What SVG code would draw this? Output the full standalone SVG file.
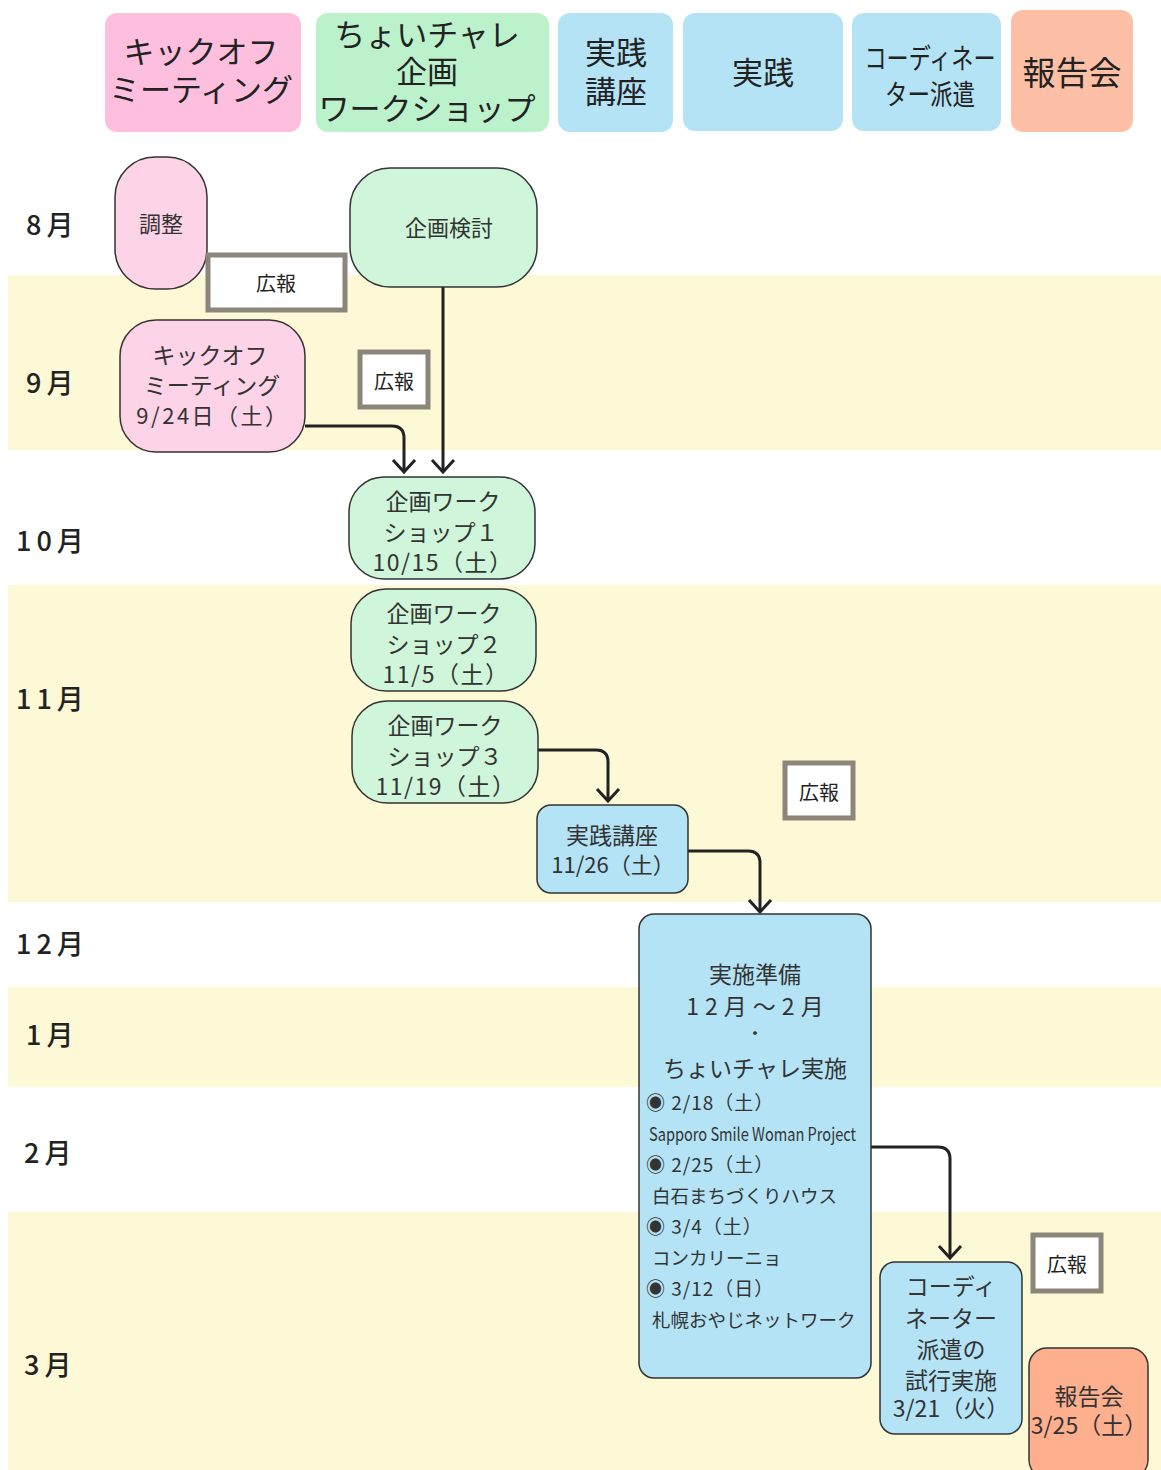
<svg xmlns="http://www.w3.org/2000/svg" width="1161" height="1470" viewBox="0 0 1161 1470">
<defs>
<style>
text{font-family:"Noto Sans CJK JP","Noto Sans",sans-serif;fill:#333;}
.c{text-anchor:middle;}
.hd{font-size:31px;fill:#222;}
.mo{font-size:27px;font-weight:500;fill:#222;letter-spacing:5px;}
.n{font-size:23px;}
.dt{letter-spacing:1.5px;}
.it{font-size:19px;letter-spacing:1px;}
.band{fill:#fdf8d6;}
.nd{stroke:#333;stroke-width:1.5;}
.pk{fill:#fdd3e7;}
.gr{fill:#cff6da;}
.bl{fill:#b3e3f5;}
.or{fill:#fdaf8e;}
.kh rect{fill:#fff;stroke:#8c857a;stroke-width:5;}
.kh text{font-size:20px;fill:#222;text-anchor:middle;}
.conn path{fill:none;stroke:#222;stroke-width:3;}
</style>
<marker id="arr" viewBox="-2 -13 16 26" markerWidth="16" markerHeight="26" refX="12" refY="0" orient="auto" markerUnits="userSpaceOnUse">
<path d="M0,-11 L12,0 L0,11" fill="none" stroke="#222" stroke-width="3"/>
</marker>
</defs>
<rect width="1161" height="1470" fill="#fff"/>
<!-- month bands -->
<g id="bands">
<rect class="band" x="8" y="275" width="1153" height="175"/>
<rect class="band" x="8" y="585" width="1153" height="317"/>
<rect class="band" x="8" y="987" width="1153" height="100"/>
<rect class="band" x="8" y="1212" width="1153" height="258"/>
</g>
<!-- month labels -->
<g id="months">
<text class="mo" x="26" y="235">8月</text>
<text class="mo" x="26" y="393">9月</text>
<text class="mo" x="16" y="551">10月</text>
<text class="mo" x="16" y="709">11月</text>
<text class="mo" x="16" y="954">12月</text>
<text class="mo" x="26" y="1045">1月</text>
<text class="mo" x="24" y="1163">2月</text>
<text class="mo" x="24" y="1375">3月</text>
</g>
<!-- header -->
<g id="h-kickoff">
<rect x="105" y="13" width="196" height="119" rx="12" fill="#fdbfdd"/>
<text class="hd c" x="201" y="63">キックオフ</text>
<text class="hd c" x="201" y="101">ミーティング</text>
</g>
<g id="h-choicha">
<rect x="316" y="13" width="233" height="119" rx="12" fill="#bbf1cb"/>
<text class="hd c" x="427" y="46">ちょいチャレ</text>
<text class="hd c" x="427" y="83">企画</text>
<text class="hd c" x="427" y="120">ワークショップ</text>
</g>
<g id="h-koza">
<rect x="558" y="13" width="115" height="119" rx="12" fill="#b3e3f5"/>
<text class="hd c" x="616" y="64">実践</text>
<text class="hd c" x="616" y="103">講座</text>
</g>
<g id="h-jissen">
<rect x="683" y="13" width="160" height="118" rx="12" fill="#b3e3f5"/>
<text class="hd c" x="763" y="84">実践</text>
</g>
<g id="h-coord">
<rect x="852" y="13" width="149" height="118" rx="12" fill="#b3e3f5"/>
<text class="c" x="930" y="69" font-size="28" textLength="131" lengthAdjust="spacingAndGlyphs" style="fill:#222">コーディネー</text>
<text class="c" x="930" y="105" font-size="28" textLength="90" lengthAdjust="spacingAndGlyphs" style="fill:#222">ター派遣</text>
</g>
<g id="h-report">
<rect x="1011" y="10" width="122" height="122" rx="12" fill="#fdbfa5"/>
<text class="c" x="1072" y="85" font-size="33" style="fill:#222">報告会</text>
</g>
<!-- connectors -->
<g id="connectors" class="conn">
<path d="M305,426 H392 Q404,426 404,438 V472" marker-end="url(#arr)"/>
<path d="M443,287 V472" marker-end="url(#arr)"/>
<path d="M538,750 H596 Q608,750 608,762 V801" marker-end="url(#arr)"/>
<path d="M688,851 H748 Q760,851 760,863 V912" marker-end="url(#arr)"/>
<path d="M871,1147 H938 Q950,1147 950,1159 V1258" marker-end="url(#arr)"/>
</g>
<!-- nodes -->
<g id="n-chosei">
<rect class="nd pk" x="115" y="157" width="92" height="132" rx="40"/>
<text class="c" x="161" y="232" font-size="22">調整</text>
</g>
<g id="kh1" class="kh">
<rect x="208" y="255" width="137" height="55"/>
<text x="276" y="291">広報</text>
</g>
<g id="n-kentou">
<rect class="nd gr" x="350" y="168" width="187" height="119" rx="40"/>
<text class="c" x="449" y="236" font-size="22">企画検討</text>
</g>
<g id="n-kickoff">
<rect class="nd pk" x="120" y="320" width="185" height="132" rx="36"/>
<text class="c n" x="210" y="364">キックオフ</text>
<text class="c n" x="212" y="394">ミーティング</text>
<text class="c" x="213" y="424" font-size="22" letter-spacing="2.5">9/24日（土）</text>
</g>
<g id="kh2" class="kh">
<rect x="360" y="352" width="68" height="55"/>
<text x="394" y="389">広報</text>
</g>
<g id="n-ws1">
<rect class="nd gr" x="349" y="477" width="186" height="102" rx="35"/>
<text class="c n" x="443" y="510">企画ワーク</text>
<text class="c n" x="441" y="541">ショップ１</text>
<text class="c n dt" x="443" y="571">10/15（土）</text>
</g>
<g id="n-ws2">
<rect class="nd gr" x="351" y="589" width="185" height="102" rx="35"/>
<text class="c n" x="444" y="622">企画ワーク</text>
<text class="c n" x="444" y="653">ショップ２</text>
<text class="c n dt" x="446" y="683">11/5（土）</text>
</g>
<g id="n-ws3">
<rect class="nd gr" x="352" y="701" width="186" height="102" rx="35"/>
<text class="c n" x="445" y="734">企画ワーク</text>
<text class="c n" x="445" y="765">ショップ３</text>
<text class="c n dt" x="446" y="795">11/19（土）</text>
</g>
<g id="n-koza">
<rect class="nd bl" x="537" y="805" width="151" height="88" rx="14"/>
<text class="c n" x="612" y="844">実践講座</text>
<text class="c" x="613" y="873" font-size="22">11/26（土）</text>
</g>
<g id="kh3" class="kh">
<rect x="785" y="763" width="68" height="55"/>
<text x="819" y="800">広報</text>
</g>
<g id="n-jisshi">
<rect class="nd bl" x="639" y="914" width="232" height="464" rx="15"/>
<text class="c n" x="755" y="983">実施準備</text>
<text class="c n" x="758" y="1015" letter-spacing="6">12月～2月</text>
<text class="c" x="755" y="1040" font-size="18">・</text>
<text class="c n" x="755" y="1077">ちょいチャレ実施</text>
<text class="it" x="646" y="1110">◉ 2/18（土）</text>
<text x="649" y="1141" font-size="18" textLength="207" lengthAdjust="spacingAndGlyphs">Sapporo Smile Woman Project</text>
<text class="it" x="646" y="1172">◉ 2/25（土）</text>
<text x="652" y="1203" font-size="18.5">白石まちづくりハウス</text>
<text class="it" x="646" y="1234">◉ 3/4（土）</text>
<text x="652" y="1265" font-size="18.5">コンカリーニョ</text>
<text class="it" x="646" y="1296">◉ 3/12（日）</text>
<text x="652" y="1327" font-size="18.5">札幌おやじネットワーク</text>
</g>
<g id="n-coord">
<rect class="nd bl" x="880" y="1262" width="142" height="172" rx="15"/>
<text class="c n" x="951" y="1295">コーディ</text>
<text class="c n" x="951" y="1327">ネーター</text>
<text class="c n" x="951" y="1358">派遣の</text>
<text class="c n" x="951" y="1389">試行実施</text>
<text class="c n" x="951" y="1417">3/21（火）</text>
</g>
<g id="kh4" class="kh">
<rect x="1033" y="1235" width="68" height="56"/>
<text x="1067" y="1272">広報</text>
</g>
<g id="n-report">
<rect class="nd or" x="1029" y="1348" width="119" height="130" rx="18"/>
<text class="c n" x="1089" y="1405">報告会</text>
<text class="c n" x="1089" y="1434">3/25（土）</text>
</g>
</svg>
